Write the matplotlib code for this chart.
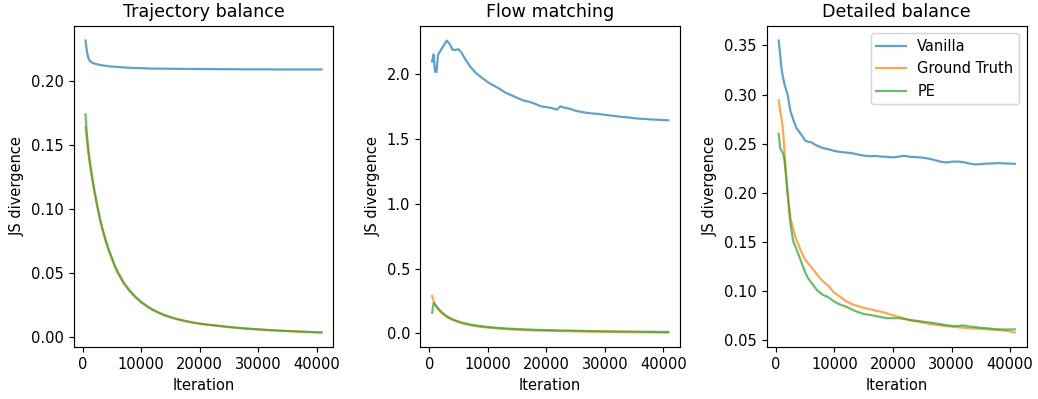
import numpy as np
import matplotlib
matplotlib.use("Agg")
import matplotlib.pyplot as plt

# ---- data ----
iters = [500, 750, 1000, 1250, 1500, 2000, 2500, 3000, 3500, 4000, 4500, 5000, 5500, 6000,
         7000, 8000, 9000, 10000, 11000, 12000, 13000, 14000, 15000, 16000, 17000, 18000,
         19000, 20000, 21000, 21800, 22400, 23000, 24000, 25000, 26000, 27000, 28000, 29000,
         30000, 31000, 32000, 33000, 34000, 35000, 36000, 37000, 38000, 39000, 40000, 40800]

titles = ["Trajectory balance", "Flow matching", "Detailed balance"]
labels = ["Vanilla", "Ground Truth", "PE"]

tb_vanilla = [0.2318, 0.223, 0.218, 0.2158, 0.2148, 0.2138, 0.2132, 0.2127, 0.2123, 0.212,
              0.2117, 0.2115, 0.2113, 0.2111, 0.2108, 0.2105, 0.2103, 0.2102, 0.2100, 0.2099,
              0.2098, 0.2098, 0.2097, 0.2097, 0.2096, 0.2096, 0.2096, 0.2095, 0.2095, 0.2095,
              0.2095, 0.2094, 0.2094, 0.2094, 0.2094, 0.2093, 0.2093, 0.2093, 0.2093, 0.2093,
              0.2093, 0.2092, 0.2092, 0.2092, 0.2092, 0.2092, 0.2092, 0.2092, 0.2092, 0.2092]
tb_truth = [0.164, 0.153, 0.143, 0.135, 0.128, 0.114, 0.102, 0.091, 0.082, 0.074, 0.067, 0.061,
            0.055, 0.050, 0.042, 0.036, 0.031, 0.027, 0.0238, 0.021, 0.0188, 0.0169, 0.0153,
            0.014, 0.0129, 0.0119, 0.011, 0.0103, 0.0097, 0.0093, 0.009, 0.0087, 0.0082,
            0.0077, 0.0073, 0.0069, 0.0065, 0.0062, 0.0059, 0.0056, 0.0053, 0.0051, 0.0048,
            0.0046, 0.0044, 0.0042, 0.004, 0.0038, 0.0036, 0.0035]
tb_pe = [0.174, 0.158, 0.146, 0.137, 0.129, 0.115, 0.103, 0.092, 0.083, 0.075, 0.068, 0.062,
         0.056, 0.051, 0.0428, 0.0366, 0.0315, 0.0275, 0.0242, 0.0214, 0.0191, 0.0172,
         0.0156, 0.0142, 0.0131, 0.0121, 0.0112, 0.0105, 0.0099, 0.0095, 0.0092, 0.0089,
         0.0084, 0.0079, 0.0074, 0.007, 0.0066, 0.0063, 0.006, 0.0057, 0.0054, 0.0052,
         0.0049, 0.0047, 0.0045, 0.0043, 0.0041, 0.0039, 0.0037, 0.0036]

fm_vanilla = [2.10, 2.155, 2.02, 2.02, 2.15, 2.19, 2.225, 2.262, 2.235, 2.19, 2.19, 2.195,
              2.17, 2.13, 2.06, 2.01, 1.975, 1.94, 1.915, 1.89, 1.86, 1.84, 1.82, 1.80, 1.79,
              1.775, 1.755, 1.748, 1.74, 1.728, 1.754, 1.745, 1.735, 1.72, 1.71, 1.703, 1.698,
              1.695, 1.688, 1.683, 1.677, 1.672, 1.668, 1.662, 1.658, 1.656, 1.652, 1.65,
              1.648, 1.646]
fm_truth = [0.29, 0.25, 0.225, 0.205, 0.19, 0.165, 0.145, 0.128, 0.115, 0.104, 0.095, 0.087,
            0.08, 0.074, 0.064, 0.056, 0.05, 0.045, 0.041, 0.037, 0.034, 0.031, 0.029, 0.027,
            0.025, 0.023, 0.022, 0.021, 0.02, 0.019, 0.018, 0.018, 0.017, 0.016, 0.015, 0.014,
            0.013, 0.013, 0.012, 0.011, 0.011, 0.01, 0.01, 0.009, 0.009, 0.008, 0.008, 0.007,
            0.007, 0.007]
fm_pe = [0.16, 0.235, 0.222, 0.208, 0.195, 0.17, 0.15, 0.133, 0.12, 0.109, 0.1, 0.092, 0.085,
         0.079, 0.069, 0.061, 0.055, 0.05, 0.046, 0.042, 0.039, 0.036, 0.034, 0.032, 0.03,
         0.028, 0.027, 0.026, 0.025, 0.024, 0.023, 0.023, 0.022, 0.021, 0.02, 0.019, 0.018,
         0.018, 0.017, 0.016, 0.016, 0.015, 0.015, 0.014, 0.014, 0.013, 0.013, 0.012, 0.012,
         0.012]

db_vanilla = [0.355, 0.34, 0.325, 0.317, 0.31, 0.30, 0.283, 0.274, 0.266, 0.262, 0.258, 0.253,
              0.252, 0.2515, 0.248, 0.2455, 0.2443, 0.2425, 0.2415, 0.241, 0.2402, 0.239,
              0.2378, 0.2372, 0.2375, 0.2368, 0.2365, 0.236, 0.2368, 0.2375, 0.2372, 0.2365,
              0.2362, 0.2358, 0.2348, 0.2335, 0.2318, 0.2308, 0.2315, 0.2318, 0.2312, 0.2298,
              0.2288, 0.2292, 0.2297, 0.2298, 0.2302, 0.2298, 0.2297, 0.2295]
db_truth = [0.294, 0.283, 0.275, 0.262, 0.24, 0.20, 0.174, 0.162, 0.152, 0.145, 0.138, 0.132,
            0.128, 0.125, 0.117, 0.110, 0.105, 0.098, 0.094, 0.0895, 0.0865, 0.0845, 0.0828,
            0.0815, 0.080, 0.0788, 0.077, 0.0753, 0.0735, 0.0722, 0.071, 0.070, 0.069, 0.0678,
            0.0668, 0.0658, 0.065, 0.0643, 0.0637, 0.063, 0.0625, 0.062, 0.0617, 0.0613,
            0.0609, 0.0606, 0.0602, 0.0596, 0.0588, 0.0576]
db_pe = [0.260, 0.245, 0.2425, 0.240, 0.232, 0.200, 0.168, 0.150, 0.143, 0.135, 0.127, 0.119,
         0.113, 0.109, 0.101, 0.096, 0.0935, 0.089, 0.086, 0.084, 0.081, 0.0785, 0.0765,
         0.0755, 0.0745, 0.0733, 0.0722, 0.0722, 0.0722, 0.0715, 0.071, 0.0703, 0.0695,
         0.0688, 0.068, 0.0672, 0.0662, 0.0652, 0.0643, 0.0642, 0.0648, 0.0638, 0.0632,
         0.0625, 0.062, 0.0613, 0.0609, 0.0607, 0.0607, 0.0608]

panels = [
    (tb_vanilla, tb_truth, tb_pe),
    (fm_vanilla, fm_truth, fm_pe),
    (db_vanilla, db_truth, db_pe),
]

# text in the reference is a touch bigger than 100 dpi, so render at 105
DPI = 105
fig, axes = plt.subplots(1, 3, figsize=(1038 / DPI, 399 / DPI), dpi=DPI)
fig.subplots_adjust(left=0.071, right=0.989, bottom=0.130, top=0.935, wspace=0.335)

for ax, title, series in zip(axes, titles, panels):
    for vals, lab in zip(series, labels):
        ax.plot(iters, vals, label=lab, alpha=0.7)
    ax.set_title(title)
    ax.set_xlabel("Iteration")
    ax.set_ylabel("JS divergence")

axes[2].legend(loc="upper right")

fig.savefig("out.png", dpi=DPI)
